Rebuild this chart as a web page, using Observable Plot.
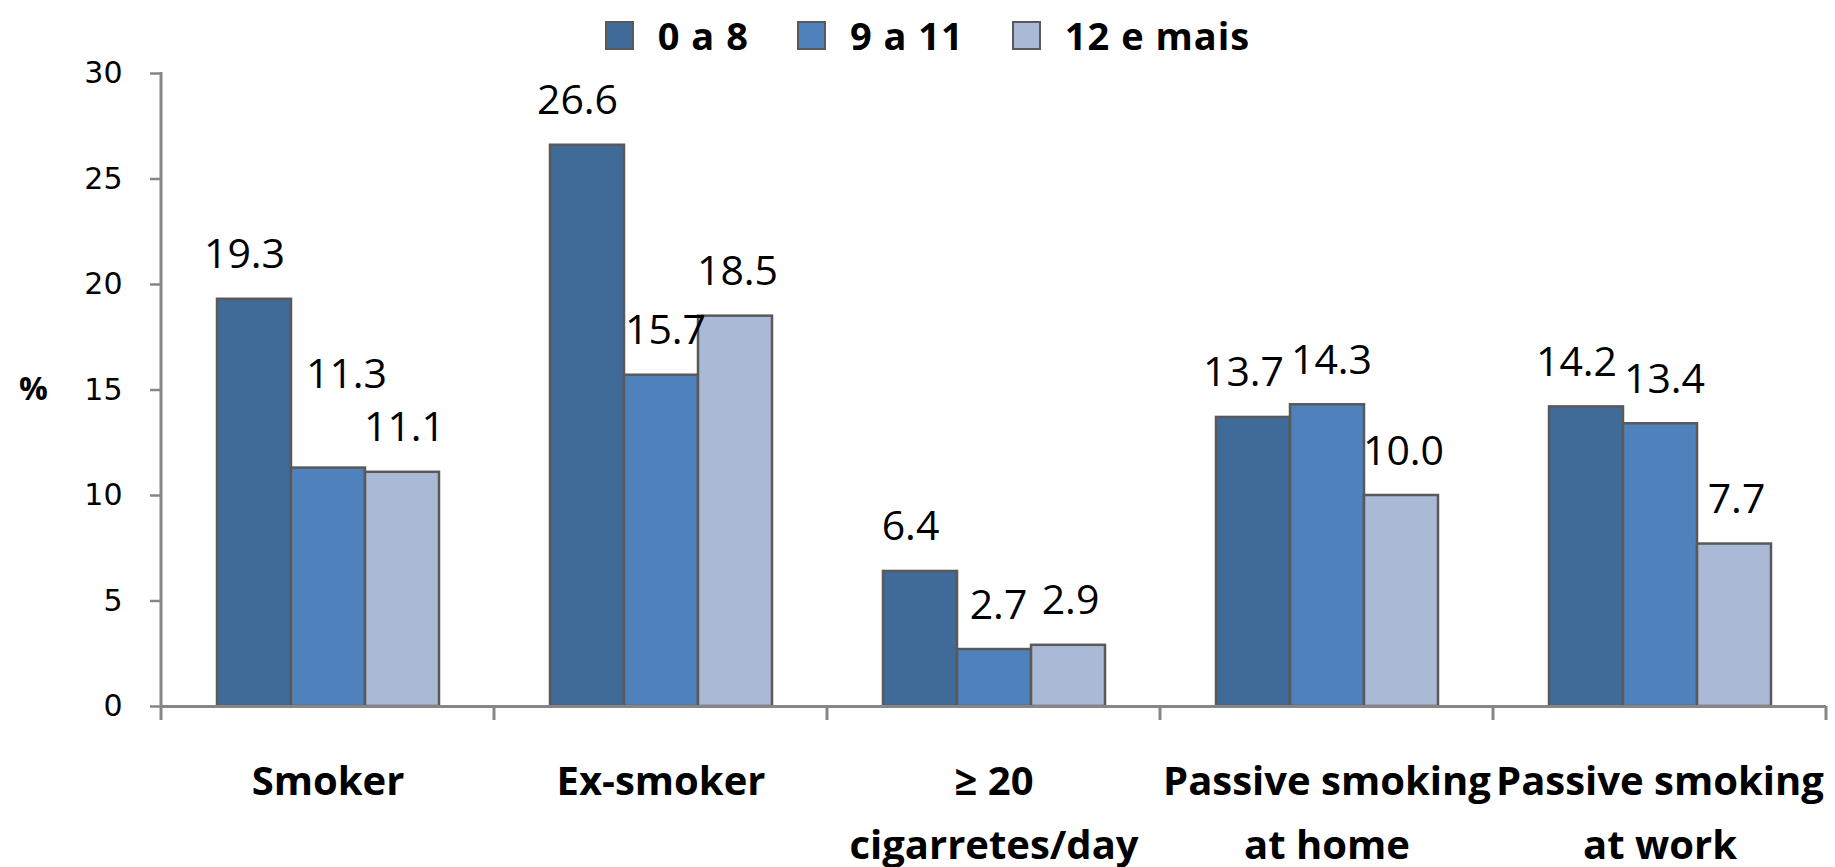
<!DOCTYPE html>
<html>
<head>
<meta charset="utf-8">
<script src="https://cdn.jsdelivr.net/npm/d3@7"></script>
<script src="https://cdn.jsdelivr.net/npm/@observablehq/plot@0.6"></script>
<style>
  html, body { margin: 0; padding: 0; background: #fff; }
  #legend {
    box-sizing: border-box;
    height: 56px;
    padding-top: 14px;
    padding-left: 20px;
    display: flex;
    justify-content: center;
    align-items: center;
    font-family: "Open Sans", sans-serif;
    font-weight: 700;
    font-size: 38px;
    letter-spacing: 1px;
    color: #000;
  }
  #legend .item { display: flex; align-items: center; margin: 0 24px; }
  #legend .swatch {
    box-sizing: border-box;
    width: 29px; height: 29px;
    border: 2.5px solid #595959;
    margin-right: 24px;
  }
</style>
</head>
<body>
<div id="legend"></div>
<div id="chart"></div>
<script>
// Education groups (years of schooling)
const groups = ["0 a 8", "9 a 11", "12 e mais"];
const groupColors = ["#406A98", "#4F81BD", "#AAB9D6"];

// Smoking indicators
const categories = ["Smoker", "Ex-smoker", "≥ 20 cigarretes/day", "Passive smoking at home", "Passive smoking at work"];
const categoryLabels = ["Smoker", "Ex-smoker", "≥ 20\ncigarretes/day", "Passive smoking\nat home", "Passive smoking\nat work"];

// Percentages per group, in category order
const values0to8 = [19.3, 26.6, 6.4, 13.7, 14.2];
const values9to11 = [11.3, 15.7, 2.7, 14.3, 13.4];
const values12plus = [11.1, 18.5, 2.9, 10.0, 7.7];

const yTicks = [0, 5, 10, 15, 20, 25, 30];

const series = [values0to8, values9to11, values12plus];
const rows = categories.flatMap((cat, i) =>
  groups.map((grp, j) => {
    const val = series[j][i];
    const text = val.toFixed(1);
    const right = j < groups.length - 1 ? series[j + 1][i] : null;
    // a label nearly level with a same-width label to its right is lifted clear of it
    const crowded = right != null && Math.abs(right - val) < 0.5 && text.length > 3;
    return {cat, grp, val, text, crowded};
  })
);

const axisGray = "#868686";
const barEdge = "#595959";

// Legend
const legend = d3.select("#legend");
groups.forEach((g, i) => {
  const item = legend.append("div").attr("class", "item");
  item.append("span").attr("class", "swatch").style("background", groupColors[i]);
  item.append("span").text(g);
});

// Value labels, one mark per group so neighbouring labels sit slightly apart
const labelShift = [-10, 4, 2];
const labelStyle = {fx: "cat", x: "grp", y: "val", text: "text", lineAnchor: "bottom", fontSize: 41, fill: "#000"};
const valueLabels = groups.flatMap((g, j) => [
  Plot.text(rows.filter((d) => d.grp === g && !d.crowded), {...labelStyle, dy: -31, dx: labelShift[j]}),
  Plot.text(rows.filter((d) => d.grp === g && d.crowded), {...labelStyle, dy: -80, dx: labelShift[j] + 14})
]);

const chart = Plot.plot({
  width: 1835,
  height: 811,
  marginTop: 17,
  marginBottom: 161,
  marginLeft: 161,
  marginRight: 9,
  style: {fontFamily: "Open Sans, sans-serif", color: "#000", background: "#fff", overflow: "visible"},
  fx: {domain: categories, padding: 0, label: null},
  x: {domain: groups, paddingInner: 0, paddingOuter: 0.75, axis: null},
  y: {domain: [0, 30], label: null},
  color: {domain: groups, range: groupColors},
  marks: [
    Plot.barY(rows, {
      fx: "cat", x: "grp", y: "val", fill: "grp",
      stroke: barEdge, strokeWidth: 2.5
    }),
    Plot.ruleY([0], {stroke: axisGray, strokeWidth: 3}),
    ...valueLabels,
    Plot.axisY({
      ticks: yTicks, tickSize: 11, tickPadding: 28,
      fontSize: 30, fontFamily: "DejaVu Sans, sans-serif",
      stroke: axisGray, strokeWidth: 2.5, fill: "#000",
      label: null
    }),
    Plot.text(["%"], {
      frameAnchor: "left", textAnchor: "middle", dx: -128, facetAnchor: "left",
      fontSize: 32, fontWeight: "bold", fill: "#000"
    }),
    Plot.axisFx({
      anchor: "bottom", tickSize: 0, tickPadding: 44,
      tickFormat: (d) => categoryLabels[categories.indexOf(d)],
      fontSize: 40, fontWeight: "bold", lineHeight: 1.58,
      fill: "#000", label: null
    })
  ]
});

// Value axis line and category boundary ticks, placed from the plot's own scales
const fxScale = chart.scale("fx");
const yScale = chart.scale("y");
const edges = categories.map((c) => fxScale.apply(c))
  .concat(fxScale.apply(categories[categories.length - 1]) + fxScale.bandwidth);
const axisLayer = d3.select(chart).append("g")
  .attr("stroke", axisGray).attr("stroke-width", 3);
axisLayer.append("line")
  .attr("x1", edges[0]).attr("x2", edges[0])
  .attr("y1", yScale.apply(30) - 1).attr("y2", yScale.apply(0));
axisLayer.selectAll("line.edge").data(edges).join("line")
  .attr("class", "edge")
  .attr("x1", (d) => d).attr("x2", (d) => d)
  .attr("y1", yScale.apply(0)).attr("y2", yScale.apply(0) + 14);

document.getElementById("chart").append(chart);
</script>
</body>
</html>
